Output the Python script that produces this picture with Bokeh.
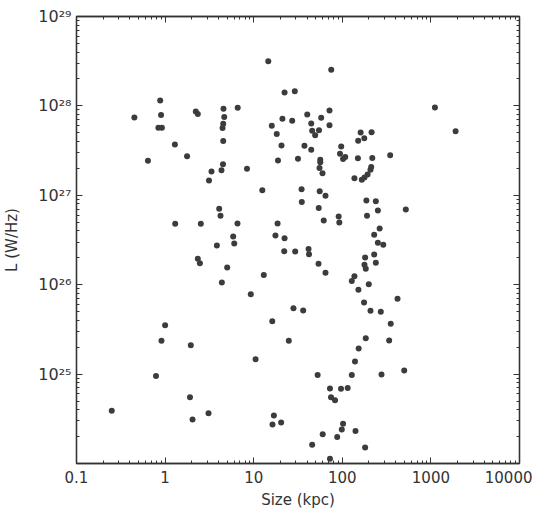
from bokeh.plotting import figure
from bokeh.models import LogAxis, FixedTicker, CustomJSTickFormatter, ColumnDataSource
from bokeh.embed import file_html
from bokeh.resources import INLINE

# Linear size (kpc) and radio luminosity (W/Hz)
size_kpc = [0.45, 0.88, 0.90, 0.84, 0.92, 1.29, 0.64, 1.77, 2.22, 2.34,
            1.30, 2.34, 2.47, 1.00, 0.91, 1.95, 0.79, 1.91, 0.25, 2.04,
            3.09, 16.9, 16.3, 20.4, 72.6, 96.7, 115, 74.6, 82.8, 102,
            98.7, 60.1, 87.6, 141, 45.7, 181, 72.6, 14.6, 75.0, 22.3,
            29.1, 4.56, 4.65, 4.53, 4.45, 6.6, 4.53, 4.5, 4.33, 3.34,
            3.13, 8.4, 12.5, 21.1, 16.0, 27.2, 18.2, 20.6, 18.8, 31.6,
            40.2, 44.6, 45.7, 49.4, 54.6, 57.8, 71.7, 71.7, 37.4, 44.6,
            56.4, 56.4, 55.3, 59.8, 97.2, 94.2, 102, 108, 150, 161,
            214, 177, 151, 218, 347, 137, 166, 178, 193, 208,
            212, 1110, 1900, 34.7, 55.6, 64.6, 34.9, 54.2, 187, 239,
            252, 521, 190, 91.0, 92.5, 61.7, 264, 229, 252, 290,
            41.6, 42.1, 229, 181, 178, 184, 239, 53.9, 64.6, 137,
            128, 199, 152, 4.08, 4.22, 2.53, 6.56, 18.6, 5.87, 6.03,
            3.84, 17.6, 22.3, 22.1, 29.4, 5.02, 4.37, 13.0, 9.27, 28.1,
            36.2, 16.2, 24.9, 10.5, 184, 153, 139, 128, 52.7, 420,
            176, 208, 272, 352, 338, 277, 500]

lum_w_hz = [7.4e27, 1.15e28, 7.9e27, 5.7e27, 5.7e27, 3.7e27, 2.43e27, 2.74e27, 8.65e27, 8.1e27,
            4.8e26, 1.95e26, 1.74e26, 3.52e25, 2.36e25, 2.10e25, 9.5e24, 5.5e24, 3.9e24, 3.1e24,
            3.65e24, 3.44e24, 2.73e24, 2.87e24, 6.9e24, 6.85e24, 7.0e24, 5.5e24, 5.1e24, 2.78e24,
            2.40e24, 2.13e24, 1.98e24, 2.31e24, 1.62e24, 1.51e24, 1.13e24, 3.16e28, 2.53e28, 1.41e28,
            1.46e28, 9.3e27, 7.5e27, 6.3e27, 5.66e27, 9.55e27, 4.05e27, 2.23e27, 1.91e27, 1.85e27,
            1.46e27, 1.98e27, 1.14e27, 7.2e27, 6.0e27, 6.8e27, 4.85e27, 3.6e27, 2.45e27, 2.56e27,
            8.0e27, 6.35e27, 5.28e27, 4.70e27, 5.33e27, 7.36e27, 8.9e27, 6.08e27, 3.58e27, 3.24e27,
            2.50e27, 2.34e27, 2.02e27, 1.77e27, 3.52e27, 2.92e27, 2.55e27, 2.68e27, 2.59e27, 5.04e27,
            5.08e27, 4.34e27, 4.08e27, 2.62e27, 2.80e27, 1.55e27, 1.49e27, 1.58e27, 1.71e27, 1.93e27,
            2.07e27, 9.6e27, 5.2e27, 1.17e27, 1.11e27, 9.9e26, 8.4e26, 7.2e26, 8.75e26, 8.6e26,
            6.76e26, 6.93e26, 5.9e26, 5.79e26, 4.97e26, 5.22e26, 4.25e26, 3.61e26, 2.95e26, 2.80e26,
            2.51e26, 2.19e26, 2.18e26, 2.02e26, 1.67e26, 1.51e26, 1.76e26, 1.71e26, 1.36e26, 1.24e26,
            1.10e26, 1.01e26, 8.8e25, 7.06e26, 5.9e26, 4.80e26, 4.83e26, 4.83e26, 3.46e26, 2.89e26,
            2.74e26, 3.55e26, 3.31e26, 2.37e26, 2.35e26, 1.56e26, 1.06e26, 1.28e26, 7.8e25, 5.46e25,
            5.14e25, 3.91e25, 2.36e25, 1.47e25, 2.52e25, 1.93e25, 1.38e25, 9.8e24, 9.8e24, 6.95e25,
            6.32e25, 5.1e25, 4.98e25, 3.65e25, 2.38e25, 9.9e24, 1.10e25]

x_tick_values = [0.1, 1, 10, 100, 1000, 10000]
x_tick_labels = ["0.1", "1", "10", "100", "1000", "10000"]
y_tick_values = [1e25, 1e26, 1e27, 1e28, 1e29]
y_tick_labels = ["10\u00b2\u2075", "10\u00b2\u2076", "10\u00b2\u2077", "10\u00b2\u2078", "10\u00b2\u2079"]

x_minor = [m * 10.0 ** e for e in range(-1, 4) for m in range(2, 10)]
y_minor = [m * 10.0 ** e for e in range(24, 29) for m in range(2, 10)]

INK = "#333333"
FONT = "DejaVu Sans"

src = ColumnDataSource(data=dict(size=size_kpc, lum=lum_w_hz))

p = figure(frame_width=443, frame_height=447, x_axis_type="log", y_axis_type="log",
           x_range=(0.1, 10000), y_range=(1e24, 1e29),
           output_backend="svg", toolbar_location=None,
           min_border_left=75, min_border_right=13, min_border_top=16, min_border_bottom=40,
           background_fill_color="white", border_fill_color="white")
p.grid.visible = False
p.outline_line_color = INK
p.outline_line_width = 1.3

fmt_code = """
for (let i = 0; i < vals.length; i++) {
  if (Math.abs(Math.log10(tick) - Math.log10(vals[i])) < 1e-6) return labs[i];
}
return "";
"""

def style_axis(ax):
    ax.axis_line_color = INK
    ax.axis_line_width = 1.3
    ax.major_tick_line_color = INK
    ax.minor_tick_line_color = INK
    ax.major_tick_in = 6
    ax.major_tick_out = 0
    ax.minor_tick_in = 3
    ax.minor_tick_out = 0
    ax.major_label_text_color = INK
    ax.major_label_text_font = FONT
    ax.axis_label_text_color = INK
    ax.axis_label_text_font = FONT
    ax.axis_label_text_font_style = "normal"

xax = p.xaxis[0]
xax.ticker = FixedTicker(ticks=x_tick_values, minor_ticks=x_minor)
xax.formatter = CustomJSTickFormatter(args=dict(vals=x_tick_values, labs=x_tick_labels), code=fmt_code)
style_axis(xax)
xax.major_label_text_font_size = "15px"
xax.major_label_standoff = 7
xax.axis_label = "Size (kpc)"
xax.axis_label_text_font_size = "15px"
xax.axis_label_standoff = 5

yax = p.yaxis[0]
yax.ticker = FixedTicker(ticks=y_tick_values, minor_ticks=y_minor)
yax.formatter = CustomJSTickFormatter(args=dict(vals=y_tick_values, labs=y_tick_labels), code=fmt_code)
style_axis(yax)
yax.major_label_text_font_size = "16px"
yax.major_label_standoff = 5
yax.axis_label = "L (W/Hz)"
yax.axis_label_text_font_size = "15px"
yax.axis_label_standoff = 14

top = LogAxis(ticker=FixedTicker(ticks=x_tick_values, minor_ticks=x_minor),
              formatter=CustomJSTickFormatter(code="return '';"))
style_axis(top)
top.major_label_text_font_size = "0px"
top.major_label_standoff = 0
p.add_layout(top, "above")

right = LogAxis(ticker=FixedTicker(ticks=y_tick_values, minor_ticks=y_minor),
                formatter=CustomJSTickFormatter(code="return '';"))
style_axis(right)
right.major_label_text_font_size = "0px"
right.major_label_standoff = 0
p.add_layout(right, "right")

p.scatter(x="size", y="lum", source=src, size=6, fill_color="#3c3c3c",
          line_color=None, marker="circle")

open("out.html", "w").write(file_html(p, INLINE))
